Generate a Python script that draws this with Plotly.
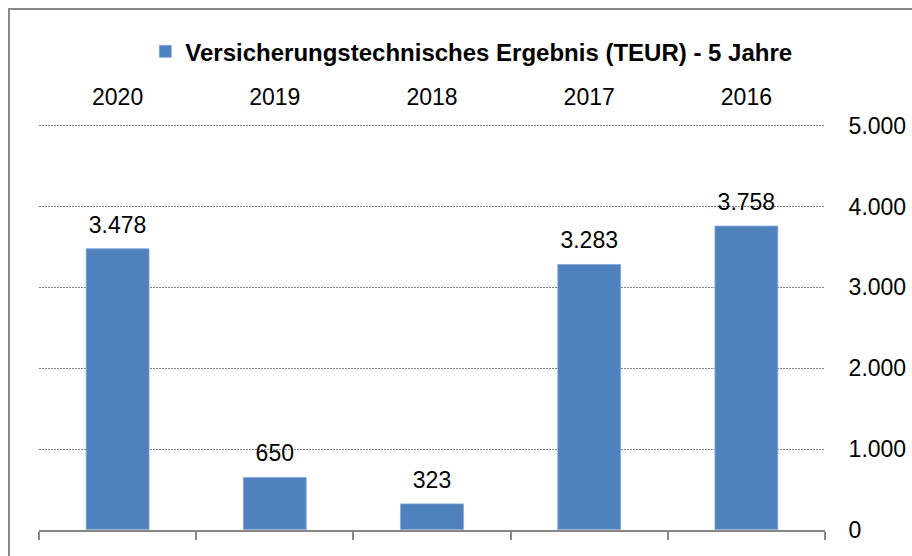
import plotly.graph_objects as go

years = ["2020", "2019", "2018", "2017", "2016"]
values = [3478, 650, 323, 3283, 3758]
series_name = "Versicherungstechnisches Ergebnis (TEUR) - 5 Jahre"
y_ticks = [0, 1000, 2000, 3000, 4000, 5000]

BAR = "#4F81BD"
FONT = "Liberation Sans, Arial, sans-serif"
FS = 23

fig = go.Figure()
fig.add_trace(go.Bar(
    x=years, y=values, name=series_name,
    marker=dict(color=BAR, line=dict(color="#86a8d8", width=0.8)),
    width=0.4,
    xaxis="x", yaxis="y",
))
# value labels
fig.add_trace(go.Scatter(
    x=years, y=values, mode="markers+text", showlegend=False, hoverinfo="skip",
    marker=dict(size=15, color="rgba(0,0,0,0)"),
    text=[f"{v:,}".replace(",", ".") for v in values], textposition="top center",
    textfont=dict(size=FS, color="#000000", family=FONT),
    cliponaxis=False, xaxis="x", yaxis="y",
))
# invisible trace to carry the bottom axis line with boundary ticks
fig.add_trace(go.Bar(x=years, y=[0]*len(years), xaxis="x2", yaxis="y",
                     showlegend=False, hoverinfo="skip", marker=dict(color="rgba(0,0,0,0)")))

fig.update_layout(
    width=912, height=556,
    margin=dict(l=39, r=87, t=124, b=26, autoexpand=False),
    paper_bgcolor="white", plot_bgcolor="white",
    separators=",.",
    font=dict(family=FONT, size=FS, color="#000000"),
    showlegend=True,
    legend=dict(orientation="h", x=0.55, xanchor="center", y=1.178, yanchor="middle",
                font=dict(size=24, family=FONT, color="#000000", weight="bold"),
                itemwidth=30, bgcolor="rgba(0,0,0,0)"),
    bargap=0.6,
    xaxis=dict(side="top", showline=False, showgrid=False, zeroline=False, automargin=False,
               range=[-0.5, 4.5],
               ticks="outside", ticklen=9, tickcolor="rgba(0,0,0,0)",
               tickfont=dict(size=FS, family=FONT), categoryorder="array", categoryarray=years),
    xaxis2=dict(overlaying="x", side="bottom", matches="x", showline=True, linecolor="#868686",
                linewidth=1.5, ticks="outside", tickson="boundaries", ticklen=8, automargin=False,
                tickcolor="#868686", tickwidth=1.5, showticklabels=False, showgrid=False,
                categoryorder="array", categoryarray=years),
    yaxis=dict(side="right", range=[0, 5020], tickvals=y_ticks, tickformat=",d", automargin=False,
               showgrid=True, gridcolor="#808080", griddash="1.5px,1.5px", gridwidth=1,
               zeroline=False, showline=False,
               ticks="outside", ticklen=18, tickcolor="rgba(0,0,0,0)",
               tickfont=dict(size=FS, family=FONT)),
    shapes=[dict(type="rect", xref="paper", yref="paper",
                 x0=(9 - 39) / 786, x1=1.2, y0=-0.2, y1=1 + (124 - 9) / 406,
                 line=dict(color="#878787", width=2), fillcolor="rgba(0,0,0,0)", layer="below")],
)

fig.write_html("out.html")
